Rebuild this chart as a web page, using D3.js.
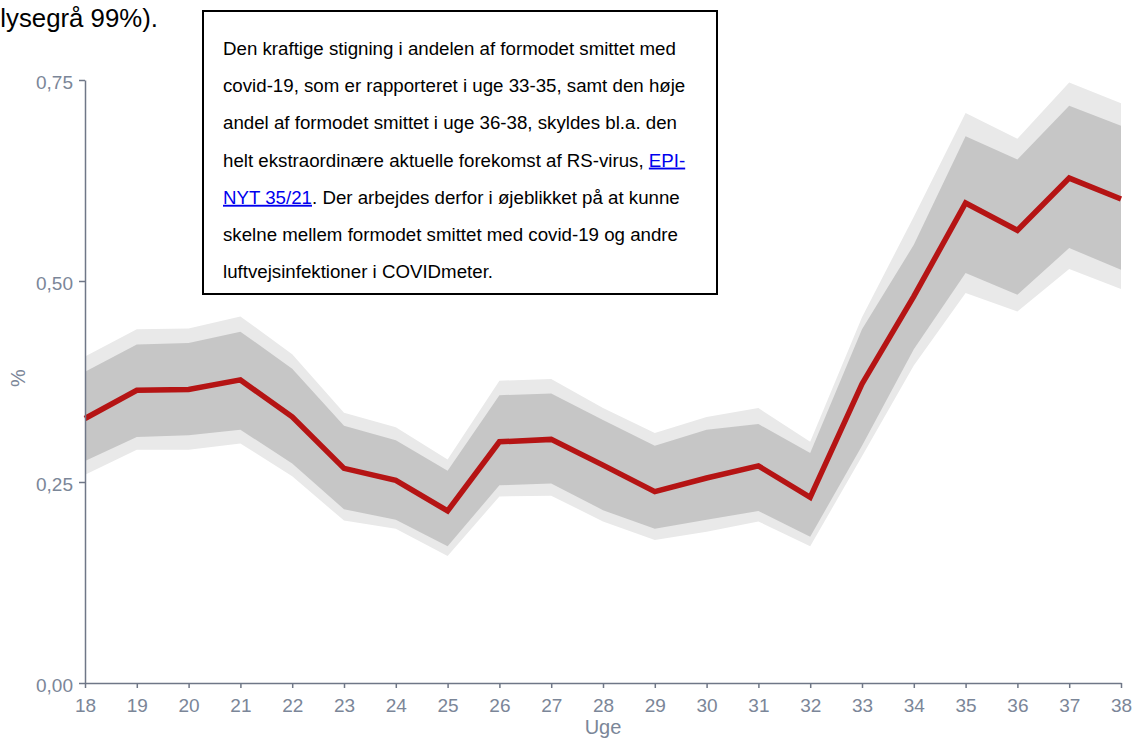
<!DOCTYPE html>
<html>
<head>
<meta charset="utf-8">
<script src="https://cdn.jsdelivr.net/npm/d3@7"></script>
<style>
  html, body { margin: 0; padding: 0; background: #ffffff; }
  svg { display: block; }
  text { font-family: "Liberation Sans", Arial, sans-serif; }
</style>
</head>
<body>
<svg id="chart" width="1135" height="738"></svg>
<script>
// ---- data ----
const weeks = [18,19,20,21,22,23,24,25,26,27,28,29,30,31,32,33,34,35,36,37,38];
const share = [0.329,0.364,0.365,0.377,0.331,0.267,0.252,0.214,0.300,0.303,0.271,0.238,0.255,0.270,0.231,0.372,0.481,0.597,0.563,0.628,0.602];
const ci95Low  = [0.276,0.306,0.308,0.315,0.273,0.216,0.203,0.170,0.246,0.248,0.215,0.192,0.203,0.214,0.182,0.295,0.415,0.510,0.483,0.541,0.514];
const ci95High = [0.387,0.421,0.423,0.437,0.391,0.320,0.302,0.264,0.358,0.360,0.327,0.295,0.315,0.322,0.286,0.440,0.545,0.680,0.651,0.718,0.693];
const ci99Low  = [0.259,0.290,0.290,0.298,0.257,0.202,0.192,0.158,0.232,0.233,0.201,0.178,0.188,0.201,0.170,0.282,0.395,0.485,0.462,0.515,0.490];
const ci99High = [0.406,0.440,0.441,0.456,0.409,0.336,0.318,0.278,0.376,0.378,0.342,0.311,0.331,0.342,0.300,0.455,0.580,0.709,0.677,0.747,0.721];
const yTicks = [0, 0.25, 0.5, 0.75];
const yTickLabels = ["0,00", "0,25", "0,50", "0,75"];
const xTitle = "Uge";
const yTitle = "%";
const topText = "lysegrå 99%).";
const noteLines = [
  [{t: "Den kraftige stigning i andelen af formodet smittet med"}],
  [{t: "covid-19, som er rapporteret i uge 33-35, samt den høje"}],
  [{t: "andel af formodet smittet i uge 36-38, skyldes bl.a. den"}],
  [{t: "helt ekstraordinære aktuelle forekomst af RS-virus, "}, {t: "EPI-", link: true}],
  [{t: "NYT 35/21", link: true}, {t: ". Der arbejdes derfor i øjeblikket på at kunne"}],
  [{t: "skelne mellem formodet smittet med covid-19 og andre"}],
  [{t: "luftvejsinfektioner i COVIDmeter."}]
];

// ---- layout ----
const svg = d3.select("#chart");
const x = d3.scaleLinear().domain([18, 38]).range([85, 1121]);
const y = d3.scaleLinear().domain([0, 0.75]).range([683, 80]);
const axisColor = "#6f7787";
const labelColor = "#7b8698";

const rows = weeks.map((w, i) => ({w, v: share[i], l95: ci95Low[i], h95: ci95High[i], l99: ci99Low[i], h99: ci99High[i]}));

// bands
svg.append("path").datum(rows)
  .attr("fill", "#e9e9e9")
  .attr("d", d3.area().x(d => x(d.w)).y0(d => y(d.l99)).y1(d => y(d.h99)));
svg.append("path").datum(rows)
  .attr("fill", "#c6c6c6")
  .attr("d", d3.area().x(d => x(d.w)).y0(d => y(d.l95)).y1(d => y(d.h95)));

// line
svg.append("path").datum(rows)
  .attr("fill", "none")
  .attr("stroke", "#b51414")
  .attr("stroke-width", 5.5)
  .attr("stroke-linejoin", "miter")
  .attr("d", d3.line().x(d => x(d.w)).y(d => y(d.v)));

// axes
const yAxis = svg.append("g").attr("transform", "translate(85,0)")
  .call(d3.axisLeft(y).tickValues(yTicks).tickFormat((d, i) => yTickLabels[i]).tickSize(6).tickPadding(6).tickSizeOuter(0));
const xAxis = svg.append("g").attr("transform", "translate(0,683)")
  .call(d3.axisBottom(x).tickValues(weeks).tickFormat(d3.format("d")).tickSize(5).tickPadding(11).tickSizeOuter(0));
[yAxis, xAxis].forEach(g => {
  g.select(".domain").attr("stroke", axisColor).attr("stroke-width", 1.5);
  g.selectAll(".tick line").attr("stroke", axisColor).attr("stroke-width", 1.5);
  g.selectAll(".tick text").attr("fill", labelColor).attr("font-size", 19)
    .attr("font-family", "Liberation Sans, Arial, sans-serif");
});
yAxis.selectAll(".tick text").attr("dy", "0.46em");

// axis titles
svg.append("text").attr("x", 603).attr("y", 734).attr("text-anchor", "middle")
  .attr("fill", labelColor).attr("font-size", 20).text(xTitle);
svg.append("text").attr("transform", "translate(25,378) rotate(-90)").attr("text-anchor", "middle")
  .attr("fill", labelColor).attr("font-size", 20).text(yTitle);

// top text fragment
svg.append("text").attr("x", 158).attr("y", 27).attr("text-anchor", "end")
  .attr("fill", "#000").attr("font-size", 25.8).text(topText);

// annotation box
svg.append("rect").attr("x", 203).attr("y", 11).attr("width", 514).attr("height", 283)
  .attr("fill", "#fff").attr("stroke", "#000").attr("stroke-width", 2);
const note = svg.append("g");
noteLines.forEach((parts, i) => {
  const t = note.append("text").attr("x", 223).attr("y", 55 + i * 37.2)
    .attr("font-size", 18.7).attr("fill", "#000");
  parts.forEach(p => {
    const s = t.append("tspan").text(p.t);
    if (p.link) s.attr("fill", "#0000ee").attr("text-decoration", "underline");
  });
});
</script>
</body>
</html>
